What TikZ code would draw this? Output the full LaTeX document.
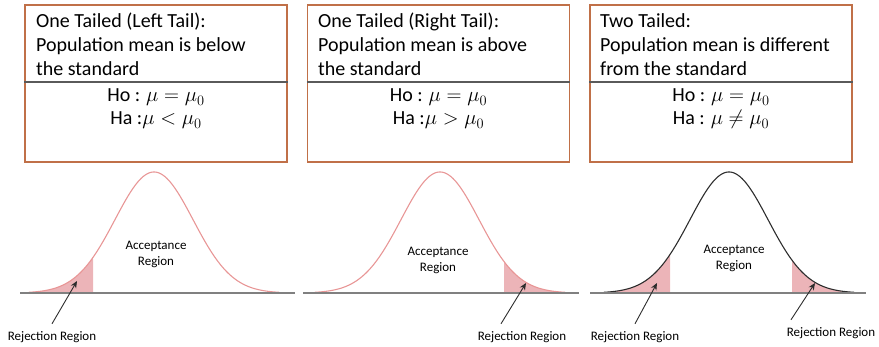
\documentclass[tikz,border=0pt]{standalone}
\usepackage{fontspec}
\setmainfont{Carlito}
\usetikzlibrary{arrows.meta}
\definecolor{boxc}{RGB}{192,112,72}
\definecolor{divc}{RGB}{90,90,90}
\definecolor{curvec}{RGB}{232,150,150}
\definecolor{shadec}{RGB}{236,180,184}
\definecolor{basec}{RGB}{128,128,128}
\definecolor{darkc}{RGB}{45,45,45}
\begin{document}
\begin{tikzpicture}[x=1pt,y=-1pt,
  hbox/.style={draw=boxc,line width=1.2pt,inner sep=0pt,minimum width=262pt,minimum height=157pt},
  divline/.style={draw=divc,line width=1.2pt},
  titletext/.style={font=\fontsize{20}{24}\selectfont,anchor=base west,inner sep=0pt},
  hyptext/.style={font=\fontsize{20}{24}\selectfont,anchor=base,inner sep=0pt},
  smalltext/.style={font=\fontsize{13}{15}\selectfont,anchor=base,inner sep=0pt},
  pinkcurve/.style={draw=curvec,line width=1.1pt},
  darkcurve/.style={draw=darkc,line width=1.1pt},
  basel/.style={draw=basec,line width=1.4pt},
  rarrow/.style={draw=darkc,line width=0.9pt,-{Stealth[length=7pt,width=6pt]}}
]
\useasboundingbox (0,0) rectangle (879,347);

% ---------- boxes ----------
\node[hbox] (b1) at (156,83.5) {};
\node[hbox] (b2) at (438.5,83.5) {};
\node[hbox] (b3) at (721,83.5) {};
\draw[divline] (b1.west |- 0,82) -- (b1.east |- 0,82);
\draw[divline] (b2.west |- 0,82) -- (b2.east |- 0,82);
\draw[divline] (b3.west |- 0,82) -- (b3.east |- 0,82);

% ---------- box texts ----------
\node[titletext] (t1a) at (36,28) {One Tailed (Left Tail):};
\node[titletext] (t1b) at (36,52) {Population mean is below};
\node[titletext] (t1c) at (36,76) {the standard};
\node[hyptext] (h1a) at (156,102) {Ho : $\mu = \mu_0$};
\node[hyptext] (h1b) at (156,125) {Ha :$\mu < \mu_0$};

\node[titletext] (t2a) at (318,28) {One Tailed (Right Tail):};
\node[titletext] (t2b) at (318,52) {Population mean is above};
\node[titletext] (t2c) at (318,76) {the standard};
\node[hyptext] (h2a) at (438.5,102) {Ho : $\mu = \mu_0$};
\node[hyptext] (h2b) at (438.5,125) {Ha :$\mu > \mu_0$};

\node[titletext] (t3a) at (600,28) {Two Tailed:};
\node[titletext] (t3b) at (600,52) {Population mean is different};
\node[titletext] (t3c) at (600,76) {from the standard};
\node[hyptext] (h3a) at (721,102) {Ho : $\mu = \mu_0$};
\node[hyptext] (h3b) at (721,125) {Ha : $\mu \neq \mu_0$};

% ---------- panel 1 ----------
\fill[shadec] plot[domain=-125:-61,samples=60] ({154+\x},{293-121*exp(-((\x/39)^2)/2)}) -- (93,293) -- (29,293) -- cycle;
\draw[pinkcurve] plot[domain=-125:125,samples=150] ({154+\x},{293-121*exp(-((\x/39)^2)/2)});
\draw[basel] (20,293) -- (295,293);
\node[smalltext] (a1a) at (156,250) {Acceptance};
\node[smalltext] (a1b) at (156,266) {Region};
\node[smalltext] (rj1) at (52,341) {Rejection Region};
\coordinate (r1) at (77,281);
\draw[rarrow] ([yshift=8pt]rj1.north) -- (r1);

% ---------- panel 2 ----------
\fill[shadec] plot[domain=64:125,samples=60] ({440+\x},{293-121*exp(-((\x/39)^2)/2)}) -- (565,293) -- (504,293) -- cycle;
\draw[pinkcurve] plot[domain=-125:125,samples=150] ({440+\x},{293-121*exp(-((\x/39)^2)/2)});
\draw[basel] (303,293) -- (579,293);
\node[smalltext] (a2a) at (438,256) {Acceptance};
\node[smalltext] (a2b) at (438,272) {Region};
\node[smalltext] (rj2) at (522,341) {Rejection Region};
\coordinate (r2) at (526,283);
\draw[rarrow] ([xshift=-21pt,yshift=8pt]rj2.north) -- (r2);

% ---------- panel 3 ----------
\fill[shadec] plot[domain=-125:-59,samples=60] ({729+\x},{293-121*exp(-((\x/39)^2)/2)}) -- (670,293) -- (604,293) -- cycle;
\fill[shadec] plot[domain=63:125,samples=60] ({729+\x},{293-121*exp(-((\x/39)^2)/2)}) -- (854,293) -- (792,293) -- cycle;
\draw[darkcurve] plot[domain=-125:125,samples=150] ({729+\x},{293-121*exp(-((\x/39)^2)/2)});
\draw[basel] (590,293) -- (866,293);
\node[smalltext] (a3a) at (734,254) {Acceptance};
\node[smalltext] (a3b) at (734,270) {Region};
\node[smalltext] (rj3) at (635,341) {Rejection Region};
\node[smalltext] (rj4) at (831,337) {Rejection Region};
\coordinate (r3) at (657,283);
\coordinate (r4) at (815,283);
\draw[rarrow] ([yshift=8pt]rj3.north) -- (r3);
\draw[rarrow] ([xshift=-40pt,yshift=8pt]rj4.north) -- (r4);
\end{tikzpicture}
\end{document}
